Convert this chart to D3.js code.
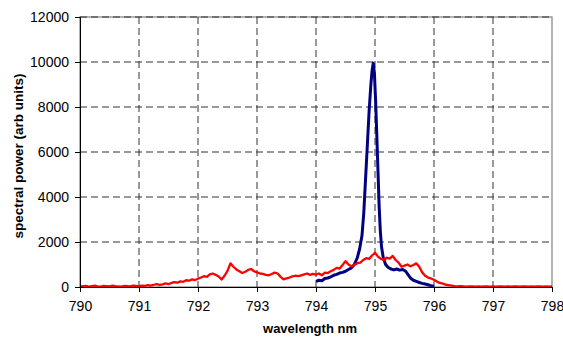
<!DOCTYPE html>
<html>
<head>
<meta charset="utf-8">
<script src="https://cdn.jsdelivr.net/npm/d3@7"></script>
<style>
  body { margin: 0; background: #fff; }
  svg { display: block; font-family: "Liberation Sans", Arial, sans-serif; }
</style>
</head>
<body>
<div id="chart"></div>
<script>
// x ticks / y ticks
const xTicks = [790, 791, 792, 793, 794, 795, 796, 797, 798];
const yTicks = [0, 2000, 4000, 6000, 8000, 10000, 12000];

// red trace, one value every 0.05 nm from 790 to 798
const redStart = 790, redStep = 0.05;
const redValues = [
    40, 30, 50, 20, 40, 60, 30, 20, 50, 40, 30, 60, 40, 30, 20, 50, 40, 30, 60, 50, 40,
    60, 50, 80, 60, 100, 130, 90, 120, 160, 130, 180, 220, 190, 250, 230, 300, 280, 340, 310, 370,
    420, 480, 450, 560, 600, 540, 470, 330, 500, 720, 1050, 900, 780, 700, 620, 680, 760, 800, 700, 650,
    600, 580, 540, 520, 580, 640, 600, 450, 340, 380, 420, 470, 500, 480, 520, 560, 600, 540, 580, 550,
    600, 520, 640, 620, 700, 760, 850, 820, 980, 1150, 1000, 920, 980, 1060, 1080, 1200, 1280, 1250, 1400, 1520,
    1350, 1250, 1200, 1300, 1260, 1380, 1200, 1080, 900, 950, 1000, 920, 980, 1050, 900, 650, 500, 420, 380, 320,
    240, 180, 150, 100, 80, 60, 40, 30, 40, 30, 20, 30, 25, 20, 30, 20, 25, 30, 20, 25,
    20, 25, 30, 20, 25, 20, 30, 25, 20, 25, 30, 20, 25, 20, 30, 25, 20, 25, 20, 30
];

// blue trace
const blueWl = [
    794.00, 794.05, 794.10, 794.15, 794.20, 794.25, 794.30, 794.35, 794.40, 794.45,
    794.50, 794.55, 794.60, 794.65, 794.70, 794.74, 794.78, 794.81, 794.84, 794.87,
    794.90, 794.93, 794.95, 794.97, 794.99, 795.01, 795.03, 795.05, 795.07, 795.09,
    795.11, 795.14, 795.18, 795.22, 795.27, 795.32, 795.37, 795.42, 795.47, 795.52,
    795.56, 795.60, 795.65, 795.70, 795.75, 795.80, 795.85, 795.90, 795.95, 796.00
];
const blueValues = [
    250, 300, 280, 380, 400, 450, 520, 560, 620, 650,
    700, 780, 850, 1000, 1300, 1700, 2300, 3300, 4800, 6300,
    7800, 9000, 9600, 9950, 9500, 8300, 6800, 5200, 3600, 2500,
    1800, 1300, 1000, 880, 800, 760, 800, 750, 780, 700,
    550, 400, 300, 250, 200, 160, 130, 100, 60, 30
];

const dim = { fullWidth: 563, fullHeight: 337, margin: { left: 80, right: 11, top: 17, bottom: 50 } };

function buildChart(id) {

    let width = dim.fullWidth - dim.margin.left - dim.margin.right,
        height = dim.fullHeight - dim.margin.top - dim.margin.bottom;

    let svg = d3.select(id)
        .append("svg")
        .attr("width", dim.fullWidth)
        .attr("height", dim.fullHeight);

    svg.append("rect")
        .attr("width", dim.fullWidth)
        .attr("height", dim.fullHeight)
        .attr("fill", "#fff");

    let g = svg.append("g")
        .attr("transform", "translate(" + dim.margin.left + "," + dim.margin.top + ")");

    let x = d3.scaleLinear().domain([790, 798]).range([0, width]);
    let y = d3.scaleLinear().domain([0, 12000]).range([height, 0]);

    // plot area border
    g.append("rect")
        .attr("width", width)
        .attr("height", height)
        .attr("fill", "none")
        .attr("stroke", "#808080")
        .attr("stroke-width", 1.2);

    // grid
    g.append("g")
        .selectAll("line")
        .data(yTicks.filter(d => d > 0))
        .enter().append("line")
        .attr("x1", 0).attr("x2", width)
        .attr("y1", d => y(d)).attr("y2", d => y(d))
        .attr("stroke", "#333")
        .attr("stroke-dasharray", "7,4");

    g.append("g")
        .selectAll("line")
        .data(xTicks.filter(d => d > 790 && d < 798))
        .enter().append("line")
        .attr("x1", d => x(d)).attr("x2", d => x(d))
        .attr("y1", 0).attr("y2", height)
        .attr("stroke", "#333")
        .attr("stroke-dasharray", "7,4");

    let line = d3.line().x(d => x(d[0])).y(d => y(d[1]));

    let red = redValues.map((v, i) => [redStart + i * redStep, v]);
    let blue = blueWl.map((w, i) => [w, blueValues[i]]);

    g.append("path")
        .datum(blue)
        .attr("d", line)
        .attr("fill", "none")
        .attr("stroke", "#000080")
        .attr("stroke-width", 3)
        .attr("stroke-linejoin", "round");

    g.append("path")
        .datum(red)
        .attr("d", line)
        .attr("fill", "none")
        .attr("stroke", "#ff0000")
        .attr("stroke-width", 2.3)
        .attr("stroke-linejoin", "round");

    // axes
    g.append("g")
        .attr("class", "x-axis")
        .attr("transform", "translate(0," + height + ")")
        .call(d3.axisBottom(x).tickValues(xTicks).tickSize(5).tickPadding(9).tickFormat(d3.format("d")))
        .call(a => a.selectAll("text").attr("font-size", 14).attr("fill", "#000"))
        .call(a => a.select(".domain").attr("stroke", "#000"));

    g.append("g")
        .attr("class", "y-axis")
        .call(d3.axisLeft(y).tickValues(yTicks).tickSize(5).tickPadding(6).tickFormat(d3.format("d")))
        .call(a => a.selectAll("text").attr("font-size", 14).attr("fill", "#000"))
        .call(a => a.select(".domain").attr("stroke", "#000"));

    g.selectAll(".tick text").attr("font-family", "Liberation Sans, Arial, sans-serif");

    // axis titles
    svg.append("text")
        .attr("x", 310)
        .attr("y", 333)
        .attr("text-anchor", "middle")
        .attr("font-size", 13)
        .attr("font-weight", "bold")
        .text("wavelength nm");

    svg.append("text")
        .attr("transform", "translate(23," + 156 + ") rotate(-90)")
        .attr("text-anchor", "middle")
        .attr("font-size", 13.5)
        .attr("font-weight", "bold")
        .text("spectral power (arb units)");
}

buildChart("#chart");
</script>
</body>
</html>
